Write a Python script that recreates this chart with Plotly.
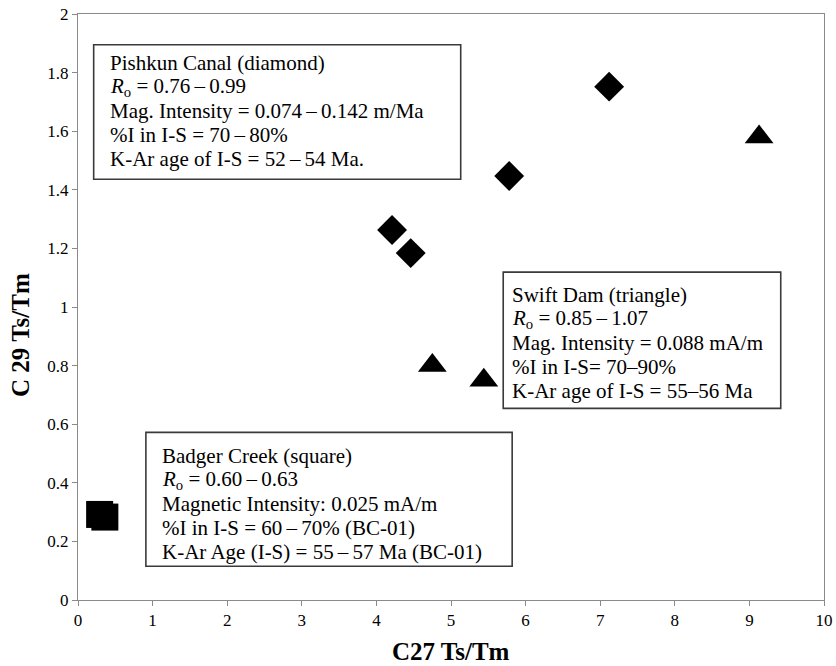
import plotly.graph_objects as go

# C27 Ts/Tm (x) vs C29 Ts/Tm (y) for the three localities
pishkun_x = [4.21, 4.46, 5.78, 7.12]
pishkun_y = [1.263, 1.184, 1.447, 1.752]

swift_x = [4.75, 5.44, 9.13]
swift_y = [0.80, 0.75, 1.58]

badger_x = [0.29, 0.36]
badger_y = [0.292, 0.283]

x_ticks = list(range(0, 11))
y_ticks = [0, 0.2, 0.4, 0.6, 0.8, 1, 1.2, 1.4, 1.6, 1.8, 2]

D = "\u2009\u2013\u2009"
RO = "<i>R</i><sub>o</sub>"
pishkun_lines = [
    "Pishkun Canal (diamond)",
    f"{RO} = 0.76{D}0.99",
    f"Mag. Intensity = 0.074{D}0.142 m/Ma",
    f"%I in I-S = 70{D}80%",
    f"K-Ar age of I-S = 52{D}54 Ma.",
]
swift_lines = [
    "Swift Dam (triangle)",
    f"{RO} = 0.85{D}1.07",
    "Mag. Intensity = 0.088 mA/m",
    "%I in I-S= 70\u201390%",
    "K-Ar age of I-S = 55\u201356 Ma",
]
badger_lines = [
    "Badger Creek (square)",
    f"{RO} = 0.60{D}0.63",
    "Magnetic Intensity: 0.025 mA/m",
    f"%I in I-S = 60{D}70% (BC-01)",
    f"K-Ar Age (I-S) = 55{D}57 Ma (BC-01)",
]

fig = go.Figure()
fig.add_trace(go.Scatter(x=pishkun_x, y=pishkun_y, mode="markers",
                         marker=dict(symbol="diamond", size=23, color="black"),
                         name="Pishkun Canal"))
fig.add_trace(go.Scatter(x=swift_x, y=swift_y, mode="markers",
                         marker=dict(symbol="triangle-up", size=25, color="black"),
                         name="Swift Dam"))
fig.add_trace(go.Scatter(x=badger_x, y=badger_y, mode="markers",
                         marker=dict(symbol="square", size=27, color="black"),
                         name="Badger Creek"))

serif = "Liberation Serif, Times New Roman, serif"
box_line = dict(color="#3a3a3a", width=1.6)

# Info boxes in axis units: rectangle, left edge of text, middle of first line
line_step = 0.082  # vertical spacing between text lines, axis units
boxes = [
    ((0.21, 1.436, 5.13, 1.895), 0.40, 1.834, pishkun_lines),
    ((5.70, 0.654, 9.42, 1.119), 5.79, 1.042, swift_lines),
    ((0.91, 0.115, 5.82, 0.572), 1.10, 0.492, badger_lines),
]
for (x0, y0, x1, y1), tx, ty, lines in boxes:
    fig.add_shape(type="rect", xref="x", yref="y", x0=x0, y0=y0, x1=x1, y1=y1,
                  line=box_line, fillcolor="white", layer="below")
    for i, txt in enumerate(lines):
        fig.add_annotation(x=tx, y=ty - i * line_step, xref="x", yref="y",
                           text=txt, showarrow=False,
                           xanchor="left", yanchor="middle", align="left",
                           font=dict(family=serif, size=21, color="black"))

axis_common = dict(showgrid=False, zeroline=False, showline=True, linecolor="#8a8a8a",
                   linewidth=1, mirror=True, ticks="outside", ticklen=5,
                   tickcolor="#8a8a8a", automargin=False,
                   tickfont=dict(family=serif, size=17, color="black"))

fig.update_xaxes(range=[0, 10], tickvals=x_ticks, **axis_common)
fig.update_yaxes(range=[0, 2], tickvals=y_ticks, **axis_common)

title_font = dict(family=serif, size=25, color="black")
fig.add_annotation(text="<b>C27 Ts/Tm</b>", xref="paper", yref="paper",
                   x=0.5, y=-0.088, xanchor="center", yanchor="middle",
                   showarrow=False, font=title_font)
fig.add_annotation(text="<b>C 29 Ts/Tm</b>", xref="paper", yref="paper",
                   x=-0.078, y=0.452, xanchor="center", yanchor="middle",
                   textangle=-90, showarrow=False, font=title_font)

fig.update_layout(width=836, height=666, showlegend=False,
                  margin=dict(l=78, r=12, t=14, b=66),
                  plot_bgcolor="white", paper_bgcolor="white")

fig.write_html("out.html")
